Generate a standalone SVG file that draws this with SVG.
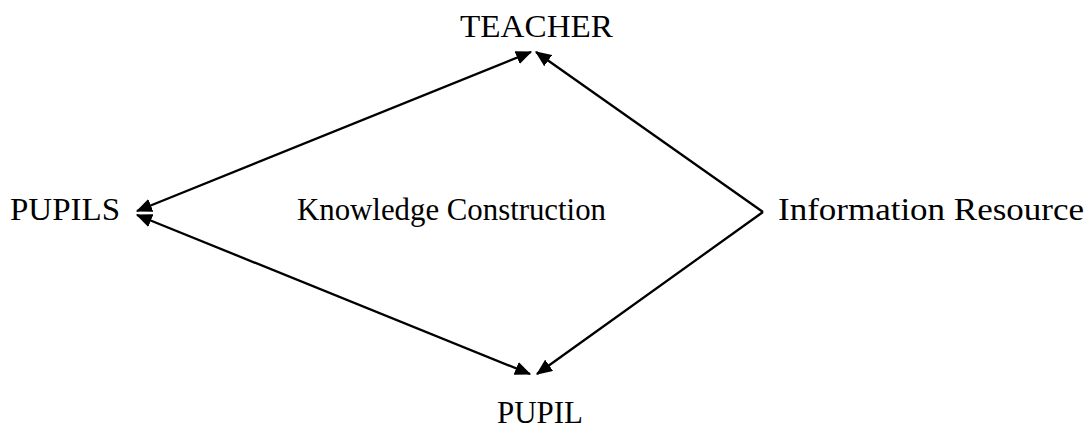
<svg xmlns="http://www.w3.org/2000/svg" width="1088" height="423" viewBox="0 0 1088 423">
<style>
text{font-family:"Liberation Serif","DejaVu Serif",serif;font-size:31px;fill:#000}
.c line{stroke:#000;stroke-width:2.3}
</style>
<defs>
<marker id="ah" viewBox="0 0 14 12" refX="13" refY="6" markerWidth="7" markerHeight="6" orient="auto-start-reverse" markerUnits="strokeWidth">
<path d="M0,0 L14,6 L0,12 z" fill="#000"/>
</marker>
</defs>
<rect width="1088" height="423" fill="#fff"/>
<g id="teacher"><text x="460" y="37" textLength="153" lengthAdjust="spacingAndGlyphs">TEACHER</text></g>
<g id="pupils"><text x="10" y="220" textLength="110" lengthAdjust="spacingAndGlyphs">PUPILS</text></g>
<g id="knowledge"><text x="297" y="220" textLength="309" lengthAdjust="spacingAndGlyphs">Knowledge Construction</text></g>
<g id="info"><text x="778" y="220" textLength="306" lengthAdjust="spacingAndGlyphs">Information Resource</text></g>
<g id="pupil"><text x="497" y="423" textLength="86" lengthAdjust="spacingAndGlyphs">PUPIL</text></g>
<g class="c" id="connectors">
<line x1="137" y1="211" x2="531" y2="52" marker-start="url(#ah)" marker-end="url(#ah)"/>
<line x1="137" y1="215" x2="530" y2="374" marker-start="url(#ah)" marker-end="url(#ah)"/>
<line x1="763" y1="212" x2="536" y2="52" marker-end="url(#ah)"/>
<line x1="763" y1="212" x2="537" y2="374" marker-end="url(#ah)"/>
</g>
</svg>
